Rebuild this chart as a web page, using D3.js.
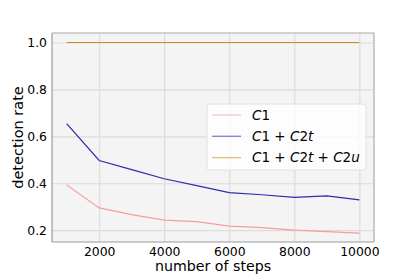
<!DOCTYPE html>
<html>
<head>
<meta charset="utf-8">
<script src="https://d3js.org/d3.v7.min.js"></script>
<style>
body { margin: 0; background: #fff; }
text { font-family: "DejaVu Sans", sans-serif; fill: #000; }
</style>
</head>
<body>
<div id="chart"></div>
<script>
// Daten
var steps = [1000, 2000, 3000, 4000, 5000, 6000, 7000, 8000, 9000, 10000];
var c1 = [0.393, 0.295, 0.266, 0.243, 0.236, 0.217, 0.211, 0.200, 0.194, 0.187];
var c1c2t = [0.654, 0.497, 0.458, 0.419, 0.390, 0.360, 0.351, 0.340, 0.346, 0.329];
var c1c2t2u = [1.0, 1.0, 1.0, 1.0, 1.0, 1.0, 1.0, 1.0, 1.0, 1.0];
var xTicks = [2000, 4000, 6000, 8000, 10000];
var yTicks = [0.2, 0.4, 0.6, 0.8, 1.0];

// Legendentexte (Mathtext: Buchstaben kursiv, Ziffern gerade)
var series = [
    {name: [["C", 1], ["1", 0]], values: c1, color: "#f59d9d"},
    {name: [["C", 1], ["1", 0], [" + ", 0], ["C", 1], ["2", 0], ["t", 1]], values: c1c2t, color: "#2c2cae"},
    {name: [["C", 1], ["1", 0], [" + ", 0], ["C", 1], ["2", 0], ["t", 1], [" + ", 0], ["C", 1], ["2", 0], ["u", 1]], values: c1c2t2u, color: "#cc8f1c"}
];

var width = 415, height = 277;
var margin = {top: 33, right: 41, bottom: 35, left: 52};

var svg = d3.select("#chart").append("svg")
        .attr("width", width)
        .attr("height", height);

var x = d3.scaleLinear().domain([550, 10450]).range([margin.left, width - margin.right]);
var y = d3.scaleLinear().domain([0.1495, 1.0405]).range([height - margin.bottom, margin.top]);

// Hintergrund der Zeichenflaeche
svg.append("rect")
        .attr("x", margin.left)
        .attr("y", margin.top)
        .attr("width", width - margin.left - margin.right)
        .attr("height", height - margin.top - margin.bottom)
        .style("fill", "#f4f4f4");

// Gitterlinien
svg.append("g")
        .attr("transform", "translate(0," + (height - margin.bottom) + ")")
        .call(d3.axisBottom(x).tickValues(xTicks).tickSize(-(height - margin.top - margin.bottom)).tickFormat(""))
        .call(function (g) { g.select(".domain").remove(); })
        .selectAll("line").style("stroke", "#dcdcdc").style("stroke-width", 1.2);

svg.append("g")
        .attr("transform", "translate(" + margin.left + ",0)")
        .call(d3.axisLeft(y).tickValues(yTicks).tickSize(-(width - margin.left - margin.right)).tickFormat(""))
        .call(function (g) { g.select(".domain").remove(); })
        .selectAll("line").style("stroke", "#dcdcdc").style("stroke-width", 1.2);

// Achsenbeschriftung
var xAxis = svg.append("g")
        .attr("transform", "translate(0," + (height - margin.bottom) + ")")
        .call(d3.axisBottom(x).tickValues(xTicks).tickSize(0).tickPadding(5).tickFormat(d3.format("d")));
xAxis.select(".domain").remove();
xAxis.selectAll("text").style("font-size", "12.4px").style("font-family", "DejaVu Sans").attr("fill", "#000");

var yAxis = svg.append("g")
        .attr("transform", "translate(" + margin.left + ",0)")
        .call(d3.axisLeft(y).tickValues(yTicks).tickSize(0).tickPadding(5).tickFormat(d3.format(".1f")));
yAxis.select(".domain").remove();
yAxis.selectAll("text").style("font-size", "12.4px").style("font-family", "DejaVu Sans").attr("fill", "#000");

// Rahmen
var x0 = margin.left, x1 = width - margin.right, y0 = margin.top, y1 = height - margin.bottom;
svg.append("line").attr("x1", x0).attr("x2", x1).attr("y1", y0).attr("y2", y0).style("stroke", "#aaa").style("stroke-width", 1.2);
svg.append("line").attr("x1", x1).attr("x2", x1).attr("y1", y0).attr("y2", y1).style("stroke", "#aaa").style("stroke-width", 1.2);
svg.append("line").attr("x1", x0).attr("x2", x1).attr("y1", y1).attr("y2", y1).style("stroke", "#999").style("stroke-width", 1.2);
svg.append("line").attr("x1", x0).attr("x2", x0).attr("y1", y0).attr("y2", y1).style("stroke", "#999").style("stroke-width", 1.2);

// Linien
var line = d3.line()
        .x(function (d, i) { return x(steps[i]); })
        .y(function (d) { return y(d); });

svg.selectAll(".series")
        .data(series)
        .enter().append("path")
        .attr("d", function (s) { return line(s.values); })
        .style("fill", "none")
        .style("stroke", function (s) { return s.color; })
        .style("stroke-width", 1.2);

// Legende
var legend = svg.append("g").attr("transform", "translate(207,104)");
legend.append("rect")
        .attr("width", 159)
        .attr("height", 66)
        .attr("rx", 3)
        .style("fill", "rgba(255,255,255,0.8)")
        .style("stroke", "#e0e0e0");

var items = legend.selectAll(".item")
        .data(series)
        .enter().append("g")
        .attr("transform", function (d, i) { return "translate(0," + (11 + i * 21.3) + ")"; });

items.append("line")
        .attr("x1", 5).attr("x2", 34)
        .style("stroke", function (s) { return s.color; })
        .style("stroke-opacity", 0.55)
        .style("stroke-width", 1.4);

var labels = items.append("text")
        .attr("x", 45)
        .attr("dy", "0.36em")
        .style("font-size", "13.5px");
labels.selectAll("tspan")
        .data(function (s) { return s.name; })
        .enter().append("tspan")
        .style("font-style", function (p) { return p[1] ? "italic" : "normal"; })
        .style("white-space", "pre")
        .text(function (p) { return p[0]; });

// Achsentitel
svg.append("text")
        .attr("x", (x0 + x1) / 2)
        .attr("y", 271)
        .attr("text-anchor", "middle")
        .style("font-size", "14.2px")
        .text("number of steps");

svg.append("text")
        .attr("transform", "translate(18," + ((y0 + y1) / 2) + ") rotate(-90)")
        .attr("text-anchor", "middle")
        .attr("dy", "0.35em")
        .style("font-size", "14.5px")
        .text("detection rate");
</script>
</body>
</html>
